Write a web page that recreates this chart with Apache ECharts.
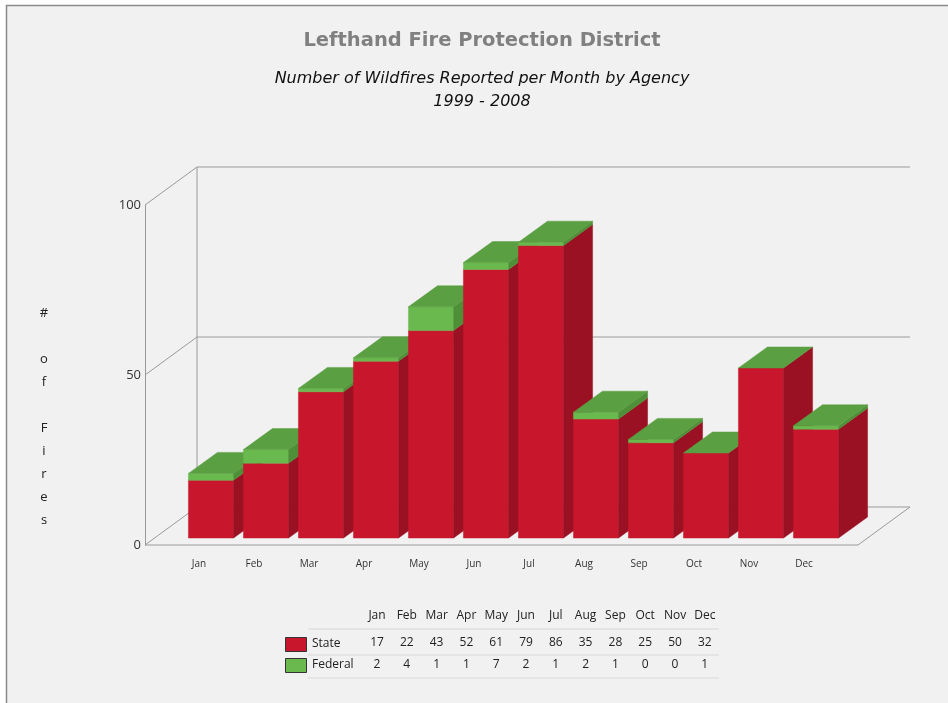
<!DOCTYPE html>
<html>
<head>
<meta charset="utf-8">
<script src="https://cdn.jsdelivr.net/npm/echarts@6/dist/echarts.min.js"></script>
<style>
html,body{margin:0;padding:0;background:#fff;}
#main{width:948px;height:703px;}
</style>
</head>
<body>
<div id="main"></div>
<script>
const months = ['Jan','Feb','Mar','Apr','May','Jun','Jul','Aug','Sep','Oct','Nov','Dec'];
const stateFires = [17,22,43,52,61,79,86,35,28,25,50,32];
const federalFires = [2,4,1,1,7,2,1,2,1,0,0,1];
const yTicks = [0,50,100];
const seriesNames = ['State','Federal'];

const FONT = 'Open Sans';
const TFONT = 'DejaVu Sans';
const RED = '#c8172c', RED_SIDE = '#9a1123';
const GREEN = '#6ab94e', GREEN_SIDE = '#4f8f38', GREEN_TOP = '#5b9f43';
const WALL = '#9a9a9a';
// 3D geometry (pixels)
const WD = [52, -38];   // wall depth
const BF = [12, -7];    // bar front-plane offset
const BD = [29, -21];   // bar depth

const chart = echarts.init(document.getElementById('main'));

function renderWalls(params, api) {
  const cs = params.coordSys;
  const ext = 26.5;
  const xL = cs.x - ext, xR = cs.x + cs.width + ext;
  const ch = [];
  const line = (x1,y1,x2,y2) => ch.push({type:'line', shape:{x1,y1,x2,y2}, style:{stroke:WALL, lineWidth:1}});
  const y0 = api.coord([0, yTicks[0]])[1];
  const yTop = api.coord([0, yTicks[yTicks.length-1]])[1];
  line(xL+WD[0], y0+WD[1], xL+WD[0], yTop+WD[1]);
  yTicks.forEach(t => {
    const y = api.coord([0, t])[1];
    line(xL, y, xL+WD[0], y+WD[1]);
    line(xL+WD[0], y+WD[1], xR+WD[0], y+WD[1]);
  });
  line(xL, y0, xR, y0);
  line(xR, y0, xR+WD[0], y0+WD[1]);
  return {type:'group', children: ch};
}

function poly(points, fill) {
  return {type:'polygon', shape:{points}, style:{fill, stroke:fill, lineWidth:0.5}};
}

function renderBars(params, api) {
  const i = api.value(0), s = api.value(1), f = api.value(2);
  const bw = api.size([1, 0])[0] * 0.82;
  const base = api.coord([i, 0]);
  const ps = api.coord([i, s]);
  const pt = api.coord([i, s + f]);
  const xl = base[0] + BF[0] - bw/2, xr = xl + bw;
  const yb = base[1] + BF[1], ys = ps[1] + BF[1], yt = pt[1] + BF[1];
  const dx = BD[0], dy = BD[1];
  const ch = [
    poly([[xl,yb],[xr,yb],[xr,ys],[xl,ys]], RED),
    poly([[xr,yb],[xr+dx,yb+dy],[xr+dx,ys+dy],[xr,ys]], RED_SIDE)
  ];
  if (f > 0) {
    ch.push(poly([[xl,ys],[xr,ys],[xr,yt],[xl,yt]], GREEN));
    ch.push(poly([[xr,ys],[xr+dx,ys+dy],[xr+dx,yt+dy],[xr,yt]], GREEN_SIDE));
  }
  ch.push(poly([[xl,yt],[xr,yt],[xr+dx,yt+dy],[xl+dx,yt+dy]], GREEN_TOP));
  return {type:'group', children: ch};
}

const tableX0 = 377, tableDX = 29.8;
const tfont = '12px "'+FONT+'"';
const tableGraphics = [];
months.forEach((m, i) => {
  tableGraphics.push({type:'text', x: tableX0 + tableDX*i, y: 616, style:{text:m, font:tfont, fill:'#222', textAlign:'center', textVerticalAlign:'middle'}});
  tableGraphics.push({type:'text', x: tableX0 + tableDX*i, y: 643, style:{text:String(stateFires[i]), font:tfont, fill:'#222', textAlign:'center', textVerticalAlign:'middle'}});
  tableGraphics.push({type:'text', x: tableX0 + tableDX*i, y: 665, style:{text:String(federalFires[i]), font:tfont, fill:'#222', textAlign:'center', textVerticalAlign:'middle'}});
});
[629, 655, 678].forEach(y => tableGraphics.push({type:'line', shape:{x1:308, y1:y, x2:719, y2:y}, style:{stroke:'#d8d8d8', lineWidth:1}}));
[[seriesNames[0], RED, 645], [seriesNames[1], GREEN, 666]].forEach(([name, col, y]) => {
  tableGraphics.push({type:'rect', shape:{x:285.5, y:y-7.5, width:21, height:14}, style:{fill:col, stroke:'#333', lineWidth:1}});
  tableGraphics.push({type:'text', x:312, y:y-1, style:{text:name, font:tfont, fill:'#222', textAlign:'left', textVerticalAlign:'middle'}});
});

const option = {
  backgroundColor: '#ffffff',
  animation: false,
  graphic: [
    {type:'rect', z:-10, shape:{x:6.5, y:5.5, width:1000, height:1000}, style:{fill:'#f1f1f1', stroke:'#8a8a8a', lineWidth:1.5}},
    {type:'text', x:482, y:41, style:{text:'Lefthand Fire Protection District', font:'bold 19.5px "'+TFONT+'"', fill:'#808080', textAlign:'center', textVerticalAlign:'middle'}},
    {type:'text', x:482, y:79, style:{text:'Number of Wildfires Reported per Month by Agency', font:'oblique 16px "'+TFONT+'"', fill:'#111', textAlign:'center', textVerticalAlign:'middle'}},
    {type:'text', x:482, y:102, style:{text:'1999 - 2008', font:'oblique 16px "'+TFONT+'"', fill:'#111', textAlign:'center', textVerticalAlign:'middle'}},
    {type:'text', x:44, y:417, style:{text:'#\n\no\nf\n\nF\ni\nr\ne\ns', font:'13px "'+FONT+'"', lineHeight:23, fill:'#222', textAlign:'center', textVerticalAlign:'middle'}},
    ...tableGraphics
  ],
  grid: {left: 171.5, right: 116.5, top: 205, bottom: 158},
  xAxis: {
    type:'category', data: months,
    axisLine:{show:false}, axisTick:{show:false},
    axisLabel:{fontFamily:FONT, fontSize:10, color:'#333', margin:14}
  },
  yAxis: {
    type:'value', min:0, max:100, interval:50, offset:26.5,
    axisLine:{show:true, lineStyle:{color:WALL}}, axisTick:{show:false},
    splitLine:{show:false},
    axisLabel:{fontFamily:FONT, fontSize:13, color:'#333', margin:4}
  },
  series: [
    {type:'custom', name:'walls', silent:true, z:1, data:[[0, 0]], renderItem: renderWalls},
    {type:'custom', name:'bars', z:2, data: months.map((m, i) => [i, stateFires[i], federalFires[i]]), encode:{x:0, y:[1,2]}, renderItem: renderBars}
  ]
};
chart.setOption(option);
</script>
</body>
</html>
